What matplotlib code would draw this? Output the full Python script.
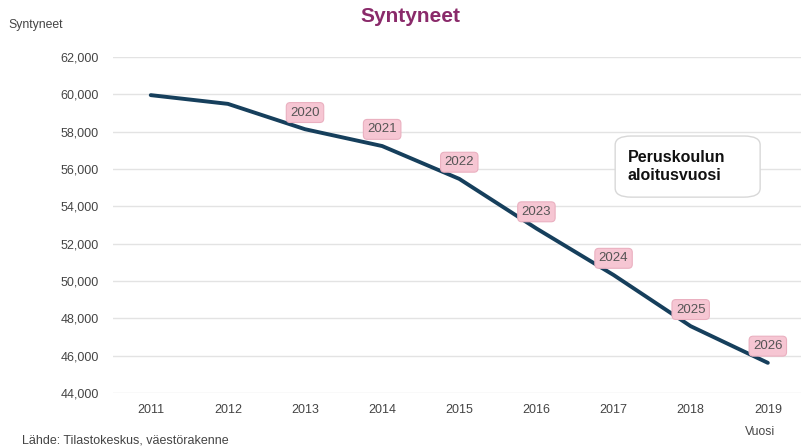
import matplotlib.pyplot as plt
from matplotlib.patches import FancyBboxPatch
from matplotlib.ticker import FuncFormatter

# Syntyneet vuosittain (Tilastokeskus)
years = [2011, 2012, 2013, 2014, 2015, 2016, 2017, 2018, 2019]
births = [59961, 59493, 58134, 57232, 55472, 52814, 50321, 47577, 45613]
# peruskoulun aloitusvuosi merkitään vuosista 2013-2019
school_years = ["2020", "2021", "2022", "2023", "2024", "2025", "2026"]
school_from = years[2:]
yticks = [44000, 46000, 48000, 50000, 52000, 54000, 56000, 58000, 60000, 62000]

plt.rcParams["font.family"] = ["Liberation Sans", "DejaVu Sans"]

fig = plt.figure(figsize=(8.01, 4.46), dpi=100)
ax = fig.add_axes([0.141, 0.119, 0.859, 0.753])

ax.plot(years, births, color="#163f5c", linewidth=2.8, solid_capstyle="round", zorder=3)

for yr, lab in zip(school_from, school_years):
    val = births[years.index(yr)]
    ax.annotate(lab, (yr, val), xytext=(0, 12), textcoords="offset points",
                ha="center", va="center", fontsize=9.5, color="#555555",
                bbox=dict(boxstyle="round,pad=0.3", fc="#f6c6d3", ec="#eab0c0", lw=0.8),
                zorder=4)

ax.set_xlim(2010.51, 2019.43)
ax.set_ylim(44000, 62000)
ax.set_yticks(yticks)
ax.set_xticks(years)
ax.yaxis.set_major_formatter(FuncFormatter(lambda v, p: f"{int(v):,}"))
ax.grid(axis="y", color="#e3e3e3", linewidth=1)
ax.set_axisbelow(True)
for s in ax.spines.values():
    s.set_visible(False)
ax.tick_params(length=0, labelsize=9, colors="#444444")
ax.tick_params(axis="y", pad=10)
ax.tick_params(axis="x", pad=8)

fig.text(0.512, 0.962, "Syntyneet", ha="center", va="center", fontsize=15,
         fontweight="bold", color="#8a2a6a")
fig.text(0.01, 0.943, "Syntyneet", ha="left", va="center", fontsize=8.8, color="#444444")
fig.text(0.93, 0.031, "Vuosi", ha="left", va="center", fontsize=8.8, color="#444444")
fig.text(0.028, 0.012, "Lähde: Tilastokeskus, väestörakenne", ha="left", va="center",
         fontsize=9, color="#444444")

# selitelaatikko
box = FancyBboxPatch((0.768, 0.558), 0.181, 0.137, boxstyle="round,pad=0,rounding_size=0.02",
                     transform=fig.transFigure, fc="white", ec="#d8d8d8", lw=1, zorder=5)
fig.add_artist(box)
fig.text(0.784, 0.627, "Peruskoulun\naloitusvuosi", ha="left", va="center",
         fontsize=11.5, fontweight="bold", color="#111111", linespacing=1.2, zorder=6)

fig.savefig("out.png", dpi=100)
